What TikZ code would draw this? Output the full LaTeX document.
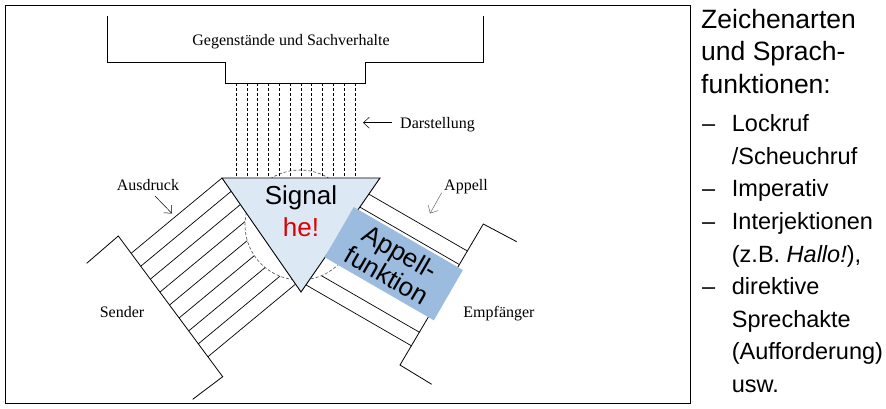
\documentclass[tikz,border=0pt]{standalone}
\usepackage{fontspec}
\setmainfont{Liberation Serif}
\setsansfont{Liberation Sans}
\usetikzlibrary{calc,arrows.meta}
\definecolor{trifill}{RGB}{221,232,245}
\definecolor{rectfill}{RGB}{155,187,223}
\definecolor{hered}{RGB}{220,0,0}
\begin{document}
\begin{tikzpicture}[x=1pt,y=-1pt,
  serif/.style={font=\fontsize{16}{19}\selectfont, inner sep=0pt, anchor=base},
  sig/.style={font=\fontsize{26}{30}\selectfont\sffamily, inner sep=0pt, anchor=base},
  head/.style={font=\fontsize{26.5}{32}\selectfont\sffamily, inner sep=0pt, anchor=base west},
  item/.style={font=\fontsize{23.5}{28}\selectfont\sffamily, inner sep=0pt, anchor=base west},
  ln/.style={line width=0.8pt},
  hatch/.style={line width=0.7pt},
  vdash/.style={line width=0.6pt, dash pattern=on 3pt off 2pt},
  circ/.style={line width=0.6pt, dash pattern=on 3pt off 2pt, draw=black!70, fill=white},
  lblarrow/.style={line width=0.5pt, -{Straight Barb[length=6pt,width=11pt]}},
]
\useasboundingbox (0,0) rectangle (886,408);
\fill[white] (0,0) rectangle (886,408);
% frame
\draw[line width=1pt] (5,5) rectangle (690,403);

% Sender / Empfaenger reference lines
\coordinate (sA) at (118.3,236);
\coordinate (sB) at (222.7,376.7);
\coordinate (eA) at (483.3,224);
\coordinate (eB) at (400,365);

% left hatch band
\begin{scope}
  \clip (222,178) -- (0,178) -- (0,408) -- (301,408) -- (301,292) -- cycle;
  \foreach \i in {0,...,8}
    \draw[hatch] ($(sA)!{0.123+0.0919*\i}!(sB)$) -- ++(123.2,-102.1);
\end{scope}
% right hatch band
\begin{scope}
  \clip (380,178) -- (700,178) -- (700,408) -- (301,408) -- (301,292) -- cycle;
  \foreach \t in {0.1915,0.2875,0.7675,0.8635}
    \draw[hatch] ($(eA)!\t!(eB)$) -- ++(-173.2,-100);
\end{scope}

% dashed circle
\draw[circ] (300,225) circle[radius=55pt];

% dashed verticals (Darstellung)
\foreach \i in {0,...,11}
  \draw[vdash] ({236+10.82*\i},83) -- ({236+10.82*\i},178);

% triangle (Signal)
\draw[fill=trifill, line width=0.9pt, line join=miter] (222,178) -- (380,178) -- (301,292) -- cycle;

% top box
\draw[ln] (107,16) -- (107,62) -- (225,62) -- (225,83) -- (365,83) -- (365,62) -- (483,62) -- (483,16);

% Sender and Empfaenger outlines
\draw[ln] (86.7,263.3) -- (sA) -- (sB) -- (192.7,399.3);
\draw[ln] (516.7,241.7) -- (eA) -- (eB) -- (431.7,384.3);

% Appellfunktion box
\node[fill=rectfill, rotate=-30, minimum width=126pt, minimum height=58pt, inner sep=0pt,
      align=center, font=\fontsize{26}{27}\selectfont\sffamily] (af) at (393.8,263.7) {Appell-\\funktion};

% Signal text
\node[sig] (sig) at (301,204) {Signal};
\node[sig, text=hered] (he) at (301,236) {he!};

% labels
\node[serif] (geg) at (291,45) {Gegenstände und Sachverhalte};
\node[serif, anchor=base west] (dar) at (400,128) {Darstellung};
\node[serif] (aus) at (148,190) {Ausdruck};
\node[serif] (app) at (466,190) {Appell};
\node[serif] (sen) at (122,317) {Sender};
\node[serif] (emp) at (499,317) {Empfänger};

% label arrows
\coordinate (darA) at (392,122.7);
\coordinate (darB) at (363,122.7);
\draw[lblarrow] (darA) -- (darB);
\coordinate (ausA) at (155,196);
\coordinate (ausB) at (172,213.5);
\draw[lblarrow] (ausA) -- (ausB);
\coordinate (appA) at (441.7,192.7);
\coordinate (appB) at (430,213.5);
\draw[lblarrow, draw=black!60] (appA) -- (appB);

% right column text
\node[head] (h1) at (701,28.3) {Zeichenarten};
\node[head] (h2) at (701,60.8) {und Sprach-};
\node[head] (h3) at (701,93.3) {funktionen:};

\node[item] (d1) at (702,131.7) {–};
\node[item] (i1) at (731.7,131.7) {Lockruf};
\node[item] (i1b) at (731.7,164.3) {/Scheuchruf};
\node[item] (d2) at (702,196.9) {–};
\node[item] (i2) at (731.7,196.9) {Imperativ};
\node[item] (d3) at (702,229.5) {–};
\node[item] (i3) at (731.7,229.5) {Interjektionen};
\node[item] (i3b) at (731.7,262.1) {(z.B. \textit{Hallo!}),};
\node[item] (d4) at (702,294.7) {–};
\node[item] (i4) at (731.7,294.7) {direktive};
\node[item] (i4b) at (731.7,327.3) {Sprechakte};
\node[item] (i4c) at (731.7,359.9) {(Aufforderung)};
\node[item] (i4d) at (731.7,392.5) {usw.};
\end{tikzpicture}
\end{document}
